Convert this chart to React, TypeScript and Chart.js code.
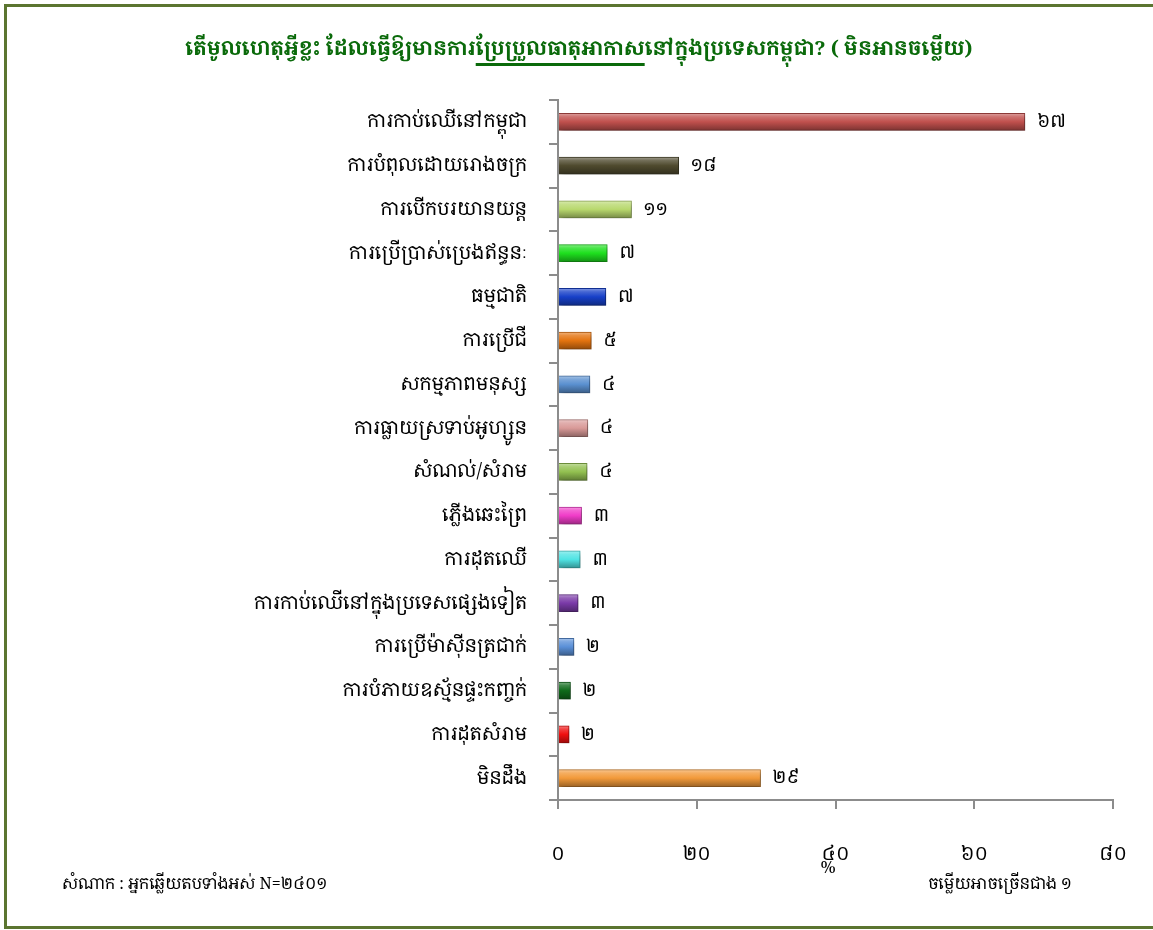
import React, { useEffect, useRef } from "react";
import { Chart, registerables } from "chart.js";

Chart.register(...registerables);

const categories: string[] = [
  "ការកាប់ឈើនៅកម្ពុជា",
  "ការបំពុលដោយរោងចក្រ",
  "ការបើកបរយានយន្ត",
  "ការប្រើប្រាស់ប្រេងឥន្ធនៈ",
  "ធម្មជាតិ",
  "ការប្រើជី",
  "សកម្មភាពមនុស្ស",
  "ការធ្លាយស្រទាប់អូហ្សូន",
  "សំណល់/សំរាម",
  "ភ្លើងឆេះព្រៃ",
  "ការដុតឈើ",
  "ការកាប់ឈើនៅក្នុងប្រទេសផ្សេងទៀត",
  "ការប្រើម៉ាស៊ីនត្រជាក់",
  "ការបំភាយឧស្ម័នផ្ទះកញ្ចក់",
  "ការដុតសំរាម",
  "មិនដឹង",
];

const values: number[] = [67.3, 17.4, 10.6, 7.1, 6.9, 4.8, 4.6, 4.3, 4.2, 3.4, 3.2, 2.9, 2.3, 1.8, 1.6, 29.2];

const valueLabels: string[] = ["៦៧", "១៨", "១១", "៧", "៧", "៥", "៤", "៤", "៤", "៣", "៣", "៣", "២", "២", "២", "២៩"];

const barColors: string[] = [
  "#c0504d",
  "#4f4a2e",
  "#b8d86e",
  "#1ee01e",
  "#1740c8",
  "#e3730f",
  "#5a90d0",
  "#d99a98",
  "#92c050",
  "#f03cc8",
  "#50e4e4",
  "#7a3aa8",
  "#5a90d8",
  "#0e6a1a",
  "#f01010",
  "#f29a3a",
];

const xTickLabels: string[] = ["០", "២០", "៤០", "៦០", "៨០"];

const titleParts: string[] = [
  "តើមូលហេតុអ្វីខ្លះ ដែលធ្វើឱ្យមានការ",
  "ប្រែប្រួលធាតុអាកាស",
  "នៅក្នុងប្រទេសកម្ពុជា? ( មិនអានចម្លើយ)",
];
const axisTitle = "%";
const footerLeft = "សំណាក : អ្នកឆ្លើយតបទាំងអស់ N=២៤០១";
const footerRight = "ចម្លើយអាចច្រើនជាង ១";

const KH = "'Khmer OS Battambang','Khmer OS','Noto Serif Khmer','Noto Sans Khmer',sans-serif";

function shade(hex: string, amt: number): string {
  const n = parseInt(hex.slice(1), 16);
  let r = (n >> 16) & 255, g = (n >> 8) & 255, b = n & 255;
  if (amt >= 0) {
    r = Math.round(r + (255 - r) * amt);
    g = Math.round(g + (255 - g) * amt);
    b = Math.round(b + (255 - b) * amt);
  } else {
    r = Math.round(r * (1 + amt));
    g = Math.round(g * (1 + amt));
    b = Math.round(b * (1 + amt));
  }
  return `rgb(${r},${g},${b})`;
}

const decorPlugin = {
  id: "decor",
  beforeDraw(chart: any) {
    const ctx = chart.ctx;
    ctx.save();
    ctx.fillStyle = "#ffffff";
    ctx.fillRect(0, 0, chart.width, chart.height);
    ctx.strokeStyle = "#5b7530";
    ctx.lineWidth = 3;
    ctx.strokeRect(5.5, 5.5, chart.width + 10, 922);
    ctx.restore();
  },
  beforeDatasetsDraw(chart: any) {
    const ctx = chart.ctx;
    ctx.save();
    ctx.shadowColor = "rgba(0,0,0,0.35)";
    ctx.shadowBlur = 5;
    ctx.shadowOffsetX = 2;
    ctx.shadowOffsetY = 3;
  },
  afterDatasetsDraw(chart: any) {
    const ctx = chart.ctx;
    ctx.restore();
    ctx.save();
    const meta = chart.getDatasetMeta(0);
    ctx.font = `18px ${KH}`;
    ctx.fillStyle = "#000";
    ctx.textAlign = "left";
    ctx.textBaseline = "middle";
    meta.data.forEach((bar: any, i: number) => {
      ctx.fillText(valueLabels[i], bar.x + 12, bar.y);
    });
    // title
    ctx.font = `bold 20px ${KH}`;
    ctx.fillStyle = "#0a6a0a";
    ctx.textBaseline = "alphabetic";
    const widths = titleParts.map((t) => ctx.measureText(t).width);
    const total = widths.reduce((a, b) => a + b, 0);
    let x = 579 - total / 2;
    const y = 55;
    titleParts.forEach((t, i) => {
      ctx.fillText(t, x, y);
      if (i === 1) {
        ctx.fillRect(x, y + 8, widths[i], 3);
      }
      x += widths[i];
    });
    // axis title
    ctx.font = `17px ${KH}`;
    ctx.fillStyle = "#000";
    ctx.textAlign = "center";
    ctx.textBaseline = "middle";
    ctx.fillText(axisTitle, 828, 868);
    // footer
    ctx.font = `16px ${KH}`;
    ctx.textAlign = "left";
    ctx.fillText(footerLeft, 62, 884);
    ctx.textAlign = "right";
    ctx.fillText(footerRight, 1072, 884);
    ctx.restore();
  },
};

export default function App() {
  const ref = useRef<HTMLCanvasElement | null>(null);
  useEffect(() => {
    if (!ref.current) return;
    const chart = new Chart(ref.current, {
      type: "bar",
      data: {
        labels: categories,
        datasets: [
          {
            data: values,
            barThickness: 17,
            backgroundColor: (c: any) => {
              const base = barColors[c.dataIndex % barColors.length];
              const ch = c.chart;
              const ys = ch.scales && ch.scales.y;
              if (!ys || !ch.chartArea) return base;
              const yc = ys.getPixelForValue(c.dataIndex);
              const g = ch.ctx.createLinearGradient(0, yc - 8.5, 0, yc + 8.5);
              g.addColorStop(0, shade(base, 0.45));
              g.addColorStop(0.2, shade(base, 0.2));
              g.addColorStop(0.5, base);
              g.addColorStop(1, shade(base, -0.35));
              return g;
            },
            borderColor: (c: any) => shade(barColors[c.dataIndex % barColors.length], -0.25),
            borderWidth: 1,
          },
        ],
      },
      options: {
        indexAxis: "y",
        animation: false,
        responsive: false,
        maintainAspectRatio: false,
        layout: { padding: { left: 0, right: 40, top: 100, bottom: 0 } },
        plugins: {
          legend: { display: false },
          tooltip: { enabled: false },
          title: { display: false },
        },
        scales: {
          x: {
            min: 0,
            max: 80,
            afterFit: (s: any) => {
              s.height = 130;
              s.paddingRight = 0;
              s.paddingLeft = 0;
            },
            ticks: {
              stepSize: 20,
              padding: 34,
              color: "#000",
              font: { family: KH, size: 19 },
              callback: (v: any) => xTickLabels[Math.round(Number(v) / 20)],
            },
            grid: { drawOnChartArea: false, tickLength: 9, color: "#8c8c8c", lineWidth: 2 },
            border: { display: true, color: "#8c8c8c", width: 2 },
          },
          y: {
            afterFit: (s: any) => {
              s.width = 558;
            },
            ticks: {
              padding: 22,
              color: "#000",
              font: { family: KH, size: 19 },
              autoSkip: false,
            },
            grid: { drawOnChartArea: false, tickLength: 9, color: "#8c8c8c", lineWidth: 2, offset: true },
            border: { display: true, color: "#8c8c8c", width: 2 },
          },
        },
      },
      plugins: [decorPlugin],
    } as any);
    return () => chart.destroy();
  }, []);
  return (
    <div style={{ position: "absolute", left: 0, top: 0, width: 1153, height: 930 }}>
      <canvas ref={ref} width={1153} height={930} style={{ width: 1153, height: 930, display: "block" }} />
    </div>
  );
}
